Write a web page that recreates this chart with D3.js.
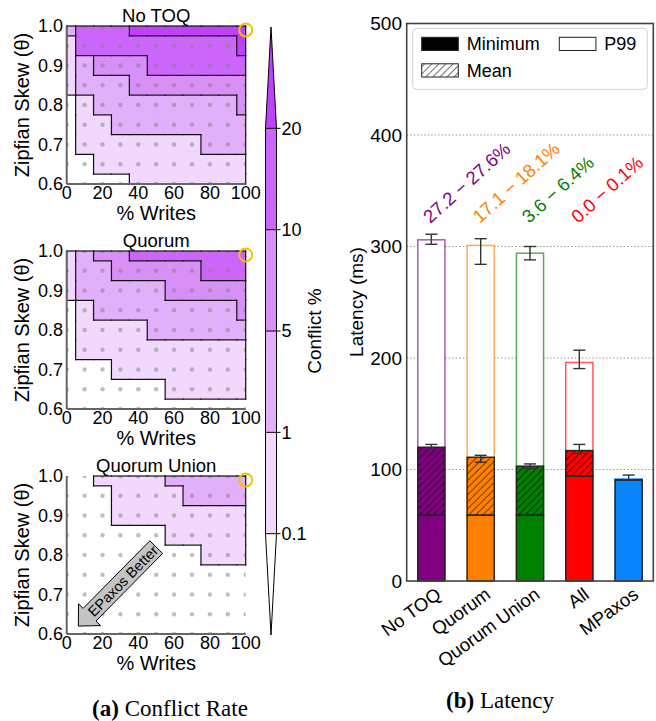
<!DOCTYPE html>
<html><head><meta charset="utf-8">
<script src="https://cdn.jsdelivr.net/npm/d3@7"></script>
<style>
body{margin:0;background:#fff}
svg{display:block}
text{font-family:"Liberation Sans",Arial,Helvetica,sans-serif;fill:#000}
</style>
</head><body>
<svg id="c" width="656" height="721"></svg>
<script>
// ---------------- DATA ----------------
const writesPct = [0,10,20,30,40,50,60,70,80,90,100];
const skews = [1.0,0.95,0.9,0.85,0.8,0.75,0.7,0.65,0.6];
// conflict % per (skew row, writes column)
const noToqConflict = [
  [2.1, 12, 15, 18, 21, 22, 23, 24, 25, 26, 27.4],
  [0.8, 11, 12, 13, 14, 15, 16, 17, 18, 19, 21],
  [0.6, 4, 6, 8, 9.5, 11, 12, 13, 14, 15, 16],
  [0.4, 3, 3.5, 4.5, 5.5, 6.5, 7, 7.5, 8, 9, 9.5],
  [0.08, 0.9, 1.5, 2, 2.5, 3, 3.5, 4, 4.5, 4.8, 5.5],
  [0.06, 0.5, 0.8, 1.2, 1.5, 1.8, 2.2, 2.5, 3, 3.5, 4],
  [0.04, 0.2, 0.3, 0.4, 0.5, 0.6, 0.7, 0.9, 1.1, 1.3, 1.6],
  [0.02, 0.08, 0.12, 0.15, 0.2, 0.25, 0.3, 0.35, 0.4, 0.5, 0.6],
  [0.01, 0.03, 0.05, 0.08, 0.11, 0.13, 0.15, 0.18, 0.2, 0.25, 0.3]
];
const quorumConflict = [
  [0.7, 3, 6, 8.5, 10.5, 11.5, 12.5, 13.5, 14.5, 15.5, 17.6],
  [0.5, 2, 4, 5.5, 6.5, 7.5, 8.5, 9.5, 10.5, 11.5, 12.5],
  [0.3, 1.5, 2.5, 3, 3.5, 4.5, 5.5, 6.5, 7.5, 8.5, 9.5],
  [0.08, 0.7, 1.2, 1.5, 2, 2.5, 3, 3.5, 4, 4.5, 5.5],
  [0.05, 0.4, 0.5, 0.7, 0.9, 1.1, 1.4, 1.7, 2, 2.4, 2.8],
  [0.03, 0.12, 0.2, 0.25, 0.3, 0.4, 0.5, 0.6, 0.7, 0.8, 0.9],
  [0.02, 0.05, 0.08, 0.11, 0.13, 0.16, 0.2, 0.25, 0.3, 0.35, 0.4],
  [0.01, 0.02, 0.03, 0.04, 0.06, 0.08, 0.11, 0.13, 0.15, 0.18, 0.2],
  [0.005, 0.01, 0.015, 0.02, 0.025, 0.03, 0.04, 0.05, 0.06, 0.07, 0.08]
];
const quorumUnionConflict = [
  [0.03, 0.08, 0.2, 0.35, 0.5, 0.8, 1.2, 1.8, 2.5, 3.2, 4.1],
  [0.02, 0.05, 0.09, 0.2, 0.3, 0.5, 0.8, 1.1, 1.5, 2, 2.6],
  [0.01, 0.03, 0.06, 0.12, 0.2, 0.3, 0.45, 0.6, 0.75, 0.85, 0.95],
  [0.005, 0.01, 0.03, 0.05, 0.07, 0.09, 0.15, 0.25, 0.35, 0.45, 0.55],
  [0, 0.01, 0.01, 0.02, 0.03, 0.04, 0.06, 0.08, 0.12, 0.18, 0.25],
  [0, 0, 0.01, 0.01, 0.01, 0.02, 0.02, 0.03, 0.04, 0.06, 0.08],
  [0, 0, 0, 0, 0.01, 0.01, 0.01, 0.01, 0.02, 0.03, 0.04],
  [0, 0, 0, 0, 0, 0, 0, 0.01, 0.01, 0.01, 0.02],
  [0, 0, 0, 0, 0, 0, 0, 0, 0, 0, 0]
];
const panelTitles = ["No TOQ", "Quorum", "Quorum Union"];
const conflictLevels = [0.1, 1, 5, 10, 20];
const levelColors = ["#ffffff", "#f2d8fc", "#e2b0fa", "#d98ff8", "#cc66fb", "#bf40fd"];
const writesTicks = [0, 20, 40, 60, 80, 100];
const skewTicks = [0.6, 0.7, 0.8, 0.9, 1.0];
const highlightPoint = [100, 0.99];
const arrowFrom = [50, 0.82], arrowTo = [6.5, 0.62];
const arrowLabel = "EPaxos Better";

const systems = ["No TOQ", "Quorum", "Quorum Union", "All", "MPaxos"];
const systemColors = ["#800080", "#ff8000", "#008000", "#ff0000", "#0a84ff"];
const minLatency = [59, 59, 59, 94, 90.5];
const meanLatency = [120, 111, 103, 117, 90.7];
const meanErrLow = [118, 106.5, 101, 114.5, null];
const meanErrHigh = [122.5, 112.7, 105, 122.5, null];
const p99Latency = [306, 301, 294, 196, 91.7];
const p99ErrLow = [302, 284, 288, 190.5, 90.6];
const p99ErrHigh = [311, 307, 300, 207, 95];
const conflictRanges = ["27.2 \u2212 27.6%", "17.1 \u2212 18.1%", "3.6 \u2212 6.4%", "0.0 \u2212 0.1%"];
const latencyTicks = [0, 100, 200, 300, 400, 500];

// ---------------- DRAW ----------------
const svg = d3.select("#c");
const defs = svg.append("defs");
defs.append("pattern").attr("id","hatch").attr("patternUnits","userSpaceOnUse")
  .attr("width",5).attr("height",5).attr("patternTransform","rotate(45)")
  .append("line").attr("x1",0).attr("y1",0).attr("x2",0).attr("y2",5)
  .attr("stroke","#000").attr("stroke-width",1.1);

const level = v => d3.bisectRight(conflictLevels, v);
const x = d3.scaleLinear().domain([0,100]).range([66.7,245.7]);
const panelTops = [26, 251, 476];
const PH = 158;
const grids = [noToqConflict, quorumConflict, quorumUnionConflict];

panelTitles.forEach((title, p) => {
  const top = panelTops[p];
  const y = d3.scaleLinear().domain([0.6,1.0]).range([top+PH, top]);
  const grid = grids[p];
  const g = svg.append("g");
  const clipId = "clip"+p;
  defs.append("clipPath").attr("id",clipId).append("rect")
    .attr("x",x(0)).attr("y",y(1)).attr("width",x(100)-x(0)).attr("height",y(0.6)-y(1));

  const cells = [];
  skews.forEach((s,j)=>writesPct.forEach((w,i)=>cells.push({i,j,w,s,lv:level(grid[j][i])})));
  const xl = d=>x(Math.max(0,d.w-5)), xr = d=>x(Math.min(100,d.w+5));
  const yt = d=>y(Math.min(1,d.s+0.025)), yb = d=>y(Math.max(0.6,d.s-0.025));
  g.append("g").attr("shape-rendering","crispEdges").selectAll("rect").data(cells).join("rect")
    .attr("x",xl).attr("y",yt).attr("width",d=>xr(d)-xl(d)).attr("height",d=>yb(d)-yt(d))
    .attr("fill",d=>levelColors[d.lv]);

  g.append("g").attr("clip-path",`url(#${clipId})`).selectAll("circle").data(cells).join("circle")
    .attr("cx",d=>x(d.w)).attr("cy",d=>y(d.s)).attr("r",2.2)
    .attr("fill","#808080").attr("fill-opacity",0.5);

  const nI = writesPct.length, nJ = skews.length;
  const lv = (i,j)=> level(grid[j][i]);
  const segs = [];
  cells.forEach(d=>{
    const {i,j,w,s} = d; const L = d.lv;
    const x0 = Math.max(0,w-5), x1 = Math.min(100,w+5);
    const y0 = Math.max(0.6,s-0.025), y1 = Math.min(1,s+0.025);
    if (i < nI-1) { if (L !== lv(i+1,j)) segs.push([x1,y0,x1,y1]); }
    else if (L>0) segs.push([x1,y0,x1,y1]);
    if (i===0 && L>0) segs.push([x0,y0,x0,y1]);
    if (j < nJ-1) { if (L !== lv(i,j+1)) segs.push([x0,y0,x1,y0]); }
    else if (L>0) segs.push([x0,y0,x1,y0]);
    if (j===0 && L>0) segs.push([x0,y1,x1,y1]);
  });
  g.append("g").selectAll("line").data(segs).join("line")
    .attr("x1",d=>x(d[0])).attr("y1",d=>y(d[1])).attr("x2",d=>x(d[2])).attr("y2",d=>y(d[3]))
    .attr("stroke","#111").attr("stroke-width",1.2).attr("stroke-linecap","square");

  g.append("line").attr("x1",x(0)).attr("x2",x(0)).attr("y1",y(0.6)).attr("y2",y(1))
    .attr("stroke","#666").attr("stroke-width",2);
  g.append("line").attr("x1",x(0)).attr("x2",x(100)).attr("y1",y(0.6)).attr("y2",y(0.6))
    .attr("stroke","#666").attr("stroke-width",2);

  g.selectAll(".xt").data(writesTicks).join("text").attr("class","xt")
    .attr("x",d=>x(d)).attr("y",top+173).attr("text-anchor","middle").attr("font-size",18).text(d=>d);
  g.selectAll(".yt").data(skewTicks).join("text").attr("class","yt")
    .attr("x",63).attr("y",d=>y(d)).attr("dy","0.36em").attr("text-anchor","end").attr("font-size",18)
    .text(d=>d3.format(".1f")(d));

  g.append("text").attr("x",(x(0)+x(100))/2).attr("y",top-4).attr("text-anchor","middle")
    .attr("font-size",18.5).text(title);
  g.append("text").attr("x",(x(0)+x(100))/2).attr("y",top+194).attr("text-anchor","middle")
    .attr("font-size",20).text("% Writes");
  g.append("text").attr("transform",`translate(29,${top+PH/2}) rotate(-90)`).attr("text-anchor","middle")
    .attr("font-size",20).text("Zipfian Skew (\u03b8)");

  g.append("circle").attr("cx",x(highlightPoint[0])).attr("cy",y(highlightPoint[1])).attr("r",6.5)
    .attr("fill","none").attr("stroke","#f2c200").attr("stroke-width",2);

  if (p === 2) {
    const T = [x(arrowTo[0]), y(arrowTo[1])], S = [x(arrowFrom[0]), y(arrowFrom[1])];
    const len = Math.hypot(T[0]-S[0], T[1]-S[1]);
    const u = [(T[0]-S[0])/len, (T[1]-S[1])/len], n = [-u[1], u[0]];
    const hl = 16, hw = 15.5, sw = 9;
    const B = [T[0]-u[0]*hl, T[1]-u[1]*hl];
    const pt = (P,k)=>[P[0]+n[0]*k, P[1]+n[1]*k];
    const poly = [pt(S,sw), pt(B,sw), pt(B,hw), T, pt(B,-hw), pt(B,-sw), pt(S,-sw)];
    g.append("path").attr("d", d3.line()(poly)+"Z").attr("fill","#c4c4c4").attr("stroke","#000").attr("stroke-width",1);
    const M = [(B[0]+S[0])/2, (B[1]+S[1])/2];
    const ang = Math.atan2(S[1]-T[1], S[0]-T[0])*180/Math.PI;
    g.append("text").attr("transform",`translate(${M[0]},${M[1]}) rotate(${ang})`)
      .attr("text-anchor","middle").attr("dy","0.36em").attr("font-size",14.5).text(arrowLabel);
  }
});

// colorbar
{
  const cb = d3.scaleLinear().domain([0,6]).range([635,27]);
  const cx0 = 265.5, cw = 11, cmid = cx0+cw/2;
  const g = svg.append("g");
  g.append("path").attr("d", d3.line()([[cmid,cb(0)],[cx0,cb(1)],[cx0+cw,cb(1)]])+"Z").attr("fill",levelColors[0]);
  g.append("path").attr("d", d3.line()([[cmid,cb(6)],[cx0,cb(5)],[cx0+cw,cb(5)]])+"Z").attr("fill",levelColors[5]);
  for (let m=1;m<=4;m++){
    g.append("rect").attr("x",cx0).attr("y",cb(m+1)).attr("width",cw).attr("height",cb(m)-cb(m+1))
      .attr("fill",levelColors[m]);
  }
  g.append("path").attr("d", d3.line()([[cmid,cb(0)],[cx0,cb(1)],[cx0,cb(5)],[cmid,cb(6)],[cx0+cw,cb(5)],[cx0+cw,cb(1)]])+"Z")
    .attr("fill","none").attr("stroke","#000").attr("stroke-width",1);
  conflictLevels.forEach((v,k)=>{
    g.append("line").attr("x1",cx0).attr("x2",cx0+cw+4).attr("y1",cb(k+1)).attr("y2",cb(k+1))
      .attr("stroke","#000").attr("stroke-width",1);
    g.append("text").attr("x",cx0+cw+5).attr("y",cb(k+1)).attr("dy","0.36em").attr("font-size",18).text(v);
  });
  g.append("text").attr("transform",`translate(321,${cb(3)}) rotate(-90)`).attr("text-anchor","middle")
    .attr("font-size",19).text("Conflict %");
}

// latency chart
{
  const xb = d3.scaleBand().domain(systems).range([406.7,653.3]).paddingInner(0.45).paddingOuter(0.225);
  const yl = d3.scaleLinear().domain([0,500]).range([581,23.5]);
  const g = svg.append("g");
  g.selectAll(".grid").data(latencyTicks.filter(t=>t>0&&t<500)).join("line").attr("class","grid")
    .attr("x1",406.7).attr("x2",653.3).attr("y1",d=>yl(d)).attr("y2",d=>yl(d))
    .attr("stroke","#999").attr("stroke-width",1).attr("stroke-dasharray","1.5,2");
  systems.forEach((s,i)=>{
    const bx = xb(s), bw = xb.bandwidth(), c = systemColors[i];
    g.append("rect").attr("x",bx).attr("y",yl(p99Latency[i])).attr("width",bw).attr("height",yl(0)-yl(p99Latency[i]))
      .attr("fill","#fff").attr("stroke",c).attr("stroke-opacity",0.65).attr("stroke-width",1.5);
    g.append("rect").attr("x",bx).attr("y",yl(meanLatency[i])).attr("width",bw).attr("height",yl(0)-yl(meanLatency[i]))
      .attr("fill",c);
    g.append("rect").attr("x",bx).attr("y",yl(meanLatency[i])).attr("width",bw).attr("height",yl(minLatency[i])-yl(meanLatency[i]))
      .attr("fill","url(#hatch)").attr("stroke","#222").attr("stroke-width",1.4);
    g.append("rect").attr("x",bx).attr("y",yl(minLatency[i])).attr("width",bw).attr("height",yl(0)-yl(minLatency[i]))
      .attr("fill",c).attr("stroke","#222").attr("stroke-width",1.4);
  });
  const errs = [];
  systems.forEach((s,i)=>{
    if (meanErrLow[i]!==null) errs.push({s,lo:meanErrLow[i],hi:meanErrHigh[i]});
    errs.push({s,lo:p99ErrLow[i],hi:p99ErrHigh[i]});
  });
  const eg = g.append("g").attr("stroke","#333").attr("stroke-width",1.4);
  errs.forEach(e=>{
    const cx = xb(e.s)+xb.bandwidth()/2;
    eg.append("line").attr("x1",cx).attr("x2",cx).attr("y1",yl(e.lo)).attr("y2",yl(e.hi));
    eg.append("line").attr("x1",cx-6).attr("x2",cx+6).attr("y1",yl(e.lo)).attr("y2",yl(e.lo));
    eg.append("line").attr("x1",cx-6).attr("x2",cx+6).attr("y1",yl(e.hi)).attr("y2",yl(e.hi));
  });
  conflictRanges.forEach((t,i)=>{
    const cx = xb(systems[i])+xb.bandwidth()/2;
    g.append("text").attr("transform",`translate(${cx-1},224) rotate(-42)`)
      .attr("font-size",18.5).style("fill",systemColors[i]).text(t);
  });
  g.append("rect").attr("x",406.7).attr("y",23.5).attr("width",246.6).attr("height",557.5)
    .attr("fill","none").attr("stroke","#444").attr("stroke-width",1.6);
  g.selectAll(".yt").data(latencyTicks).join("text").attr("class","yt")
    .attr("x",402).attr("y",d=>yl(d)).attr("dy","0.36em").attr("text-anchor","end").attr("font-size",19).text(d=>d);
  g.selectAll(".xt").data(systems).join("text").attr("class","xt")
    .attr("transform",d=>`translate(${xb(d)+xb.bandwidth()/2+11},597) rotate(-36)`)
    .attr("text-anchor","end").attr("font-size",18.5).text(d=>d);
  g.append("text").attr("transform","translate(363,302) rotate(-90)").attr("text-anchor","middle")
    .attr("font-size",19).text("Latency (ms)");
  const lg = g.append("g");
  lg.append("rect").attr("x",412.7).attr("y",28.3).attr("width",234.6).attr("height",61).attr("rx",4)
    .attr("fill","#fff").attr("fill-opacity",0.85).attr("stroke","#d0d0d0").attr("stroke-width",1);
  const legendItems = [
    {label:"Minimum", fill:"#000", x:421.7, y:37.3},
    {label:"Mean", fill:"url(#hatch)", x:421.7, y:63.8},
    {label:"P99", fill:"#fff", x:559.3, y:37.3}
  ];
  legendItems.forEach(it=>{
    lg.append("rect").attr("x",it.x).attr("y",it.y).attr("width",36.6).attr("height",13.2)
      .attr("fill",it.fill).attr("stroke","#222").attr("stroke-width",1);
    lg.append("text").attr("x",it.x+45).attr("y",it.y+12.8).attr("font-size",18).text(it.label);
  });
}

// captions
svg.append("text").attr("x",170).attr("y",716).attr("text-anchor","middle")
  .style("font-family","'Liberation Serif','Times New Roman',serif").attr("font-size",23)
  .call(t=>{t.append("tspan").attr("font-weight","bold").text("(a)"); t.append("tspan").text(" Conflict Rate");});
svg.append("text").attr("x",500).attr("y",708).attr("text-anchor","middle")
  .style("font-family","'Liberation Serif','Times New Roman',serif").attr("font-size",23)
  .call(t=>{t.append("tspan").attr("font-weight","bold").text("(b)"); t.append("tspan").text(" Latency");});
</script>
</body></html>
